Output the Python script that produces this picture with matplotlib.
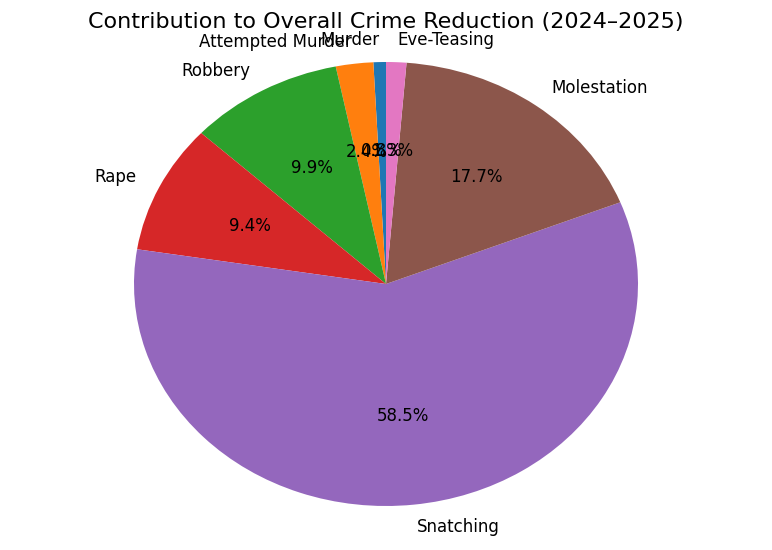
import matplotlib
matplotlib.use("Agg")
import matplotlib.pyplot as plt

labels = ["Murder", "Attempted Murder", "Robbery", "Rape", "Snatching", "Molestation", "Eve-Teasing"]
values = [0.8, 2.4, 9.9, 9.4, 58.5, 17.7, 1.3]

fig = plt.figure(figsize=(7.72, 5.5), dpi=100)
ax = fig.add_axes([134/772, 44/550, 504/772, 444/550])
ax.pie(values, labels=labels, autopct="%1.1f%%", startangle=90,
       textprops={"fontsize": 12})
ax.set_aspect("auto")
ax.set_xlim(-1, 1)
ax.set_ylim(-1, 1)
fig.text(0.5, 0.96, "Contribution to Overall Crime Reduction (2024–2025)",
         ha="center", va="center", fontsize=16)
fig.savefig("out.png", dpi=100)
